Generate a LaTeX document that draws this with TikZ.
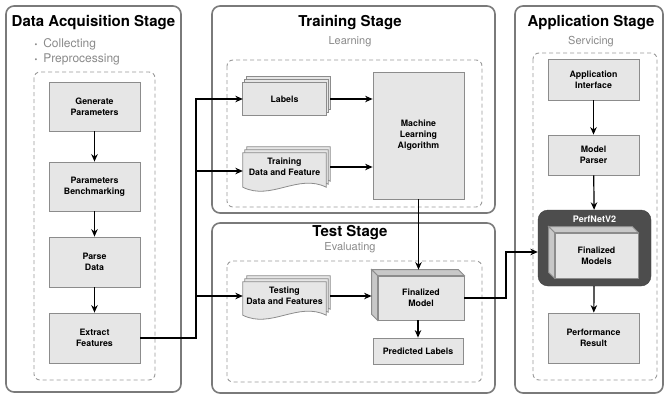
\documentclass[tikz,border=0pt]{standalone}
\usepackage{fontspec}
\setmainfont{TeX Gyre Heros}
\usepackage{tikz}
\usetikzlibrary{arrows.meta,backgrounds,calc}

\definecolor{boxfill}{HTML}{E6E6E6}
\definecolor{boxline}{HTML}{8C8C8C}
\definecolor{stageline}{HTML}{7A7A7A}
\definecolor{dashline}{HTML}{9A9A9A}
\definecolor{subgray}{HTML}{8A8A8A}
\definecolor{darkfill}{HTML}{4D4D4D}
\definecolor{sidefill}{HTML}{C8C8C8}

% stacked pages behind a document node: node, wave depth, wave amplitude
\newcommand\docstack[3]{%
  \foreach \k in {2,1,0}
    \filldraw[page] ([shift={(2*\k,-3*\k)}]#1.north west) -- ([shift={(2*\k,-3*\k)}]#1.north east)
      -- ([shift={(2*\k,-3*\k+#2)}]#1.south east)
      .. controls +(-28,-#3) and +(28,#3) .. ([shift={(2*\k,-3*\k+#2)}]#1.south west) -- cycle;
}
% depth faces of a cube node
\newcommand\cubefaces[1]{%
  \filldraw[cubeside] (#1.north west) -- ++(-6,-6) -- ([shift={(-6,-6)}]#1.north east) -- (#1.north east) -- cycle;
  \filldraw[cubeside] (#1.north west) -- ++(-6,-6) -- ([shift={(-6,-6)}]#1.south west) -- (#1.south west) -- cycle;
}

\begin{document}
\begin{tikzpicture}
  [x=1pt,y=-1pt,
   stage/.style={draw=stageline,line width=1.6pt,rounded corners=8pt},
   inner/.style={draw=dashline,line width=0.9pt,dash pattern=on 4pt off 3pt,rounded corners=6pt},
   stagetitle/.style={font=\bfseries\fontsize{15}{18}\selectfont},
   subtitle/.style={text=subgray,font=\fontsize{11}{13}\selectfont},
   bulletitem/.style={text=subgray,anchor=west,font=\fontsize{12}{14}\selectfont},
   box/.style={rectangle,draw=boxline,fill=boxfill,line width=0.8pt,minimum width=91,
     align=center,inner sep=0pt,font=\bfseries\fontsize{8.8}{11}\selectfont},
   doc/.style={rectangle,minimum width=83,align=center,inner sep=0pt,
     font=\bfseries\fontsize{8.8}{11}\selectfont},
   page/.style={draw=boxline,fill=boxfill,line width=0.8pt},
   cubeside/.style={draw=boxline,fill=sidefill,line width=0.8pt},
   darkbox/.style={rectangle,draw=darkfill!80!black,fill=darkfill,rounded corners=10pt,
     minimum width=113,minimum height=76},
   arr/.style={-{Stealth[length=7.5pt,width=6.5pt]},line width=1.2pt},
   wire/.style={line width=1.2pt}]

  \useasboundingbox (0,0) rectangle (668,396);
  \begin{scope}[on background layer]
    \fill[white] (0,0) rectangle (668,396);
  \end{scope}

  % stages
  \draw[stage] (6,6) rectangle (181,392);
  \draw[stage] (212,6) rectangle (495,213);
  \draw[stage] (212,223) rectangle (495,393);
  \draw[stage] (515,6) rectangle (663,393);
  \draw[inner] (34,72) rectangle (155,380);
  \draw[inner] (227,60) rectangle (482,207);
  \draw[inner] (227,261) rectangle (482,382);
  \draw[inner] (533,53) rectangle (657,380);

  \node[stagetitle] (acqtitle) at (93.5,23) {Data Acquisition Stage};
  \node[bulletitem] (collect) at (31,44)
    {{\fontsize{8}{8}\selectfont\textbullet}\hspace{6pt}Collecting};
  \node[bulletitem] (preproc) at (31,59)
    {{\fontsize{8}{8}\selectfont\textbullet}\hspace{6pt}Preprocessing};
  \node[stagetitle] (traintitle) at (350,23) {Training Stage};
  \node[subtitle] (learning) at (350,42) {Learning};
  \node[stagetitle] (testtitle) at (350,233) {Test Stage};
  \node[subtitle] (evaluating) at (350,248) {Evaluating};
  \node[stagetitle] (apptitle) at (591,23) {Application Stage};
  \node[subtitle] (servicing) at (591,42) {Servicing};

  % data acquisition
  \node[box,minimum height=49] (gen) at (94.5,106.5) {Generate\\Parameters};
  \node[box,minimum height=49] (bench) at (94.5,186.5) {Parameters\\Benchmarking};
  \node[box,minimum height=50] (parse) at (94.5,262) {Parse\\Data};
  \node[box,minimum height=50] (extract) at (94.5,338) {Extract\\Features};

  % training
  \node[doc,minimum height=32] (labels) at (284.5,99) {Labels};
  \node[doc,minimum height=28] (train) at (284.5,167) {Training\\Data and Feature};
  \node[box,minimum height=127] (ml) at (418.5,135.5) {Machine\\Learning\\Algorithm};

  % test
  \node[doc,minimum height=28] (testd) at (284.5,296) {Testing\\Data and Features};
  \node[box,minimum width=86,minimum height=44] (fm) at (421,298) {Finalized\\Model};
  \node[box,minimum width=90,minimum height=26] (pred) at (418,351) {Predicted Labels};
  \cubefaces{fm}

  % application
  \node[box,minimum height=41] (appint) at (593.5,79.5) {Application\\Interface};
  \node[box,minimum height=40] (parser) at (593.5,155) {Model\\Parser};
  \node[darkbox,label={[anchor=north,yshift=-3pt,text=white,
    font=\bfseries\fontsize{9}{11}\selectfont]north:PerfNetV2}] (pnet) at (594.5,248) {};
  \node[box,minimum width=83,minimum height=45] (fms) at (596.5,255.5) {Finalized\\Models};
  \cubefaces{fms}
  \node[box,minimum height=50] (perf) at (593.5,338) {Performance\\Result};

  \begin{scope}[on background layer]
    \docstack{labels}{0}{0}
    \docstack{train}{6}{14}
    \docstack{testd}{5}{14}
  \end{scope}

  \coordinate (bus) at (196,338);
  \coordinate (elbow) at (506,298);

  \draw[arr] (gen) -- (bench);
  \draw[arr] (bench) -- (parse);
  \draw[arr] (parse) -- (extract);
  \draw[arr] (extract.east) -- (bus) |- (labels.west);
  \draw[arr] (bus) |- ([yshift=-4pt]train.west);
  \draw[arr] (bus) |- (testd.west);
  \draw[arr] ([xshift=4pt]labels.east) -- (labels.east -| ml.west);
  \draw[arr] ([xshift=4pt]train.east) -- (train.east -| ml.west);
  \draw[arr] (ml.south) -- ([yshift=6pt]ml.south |- fm.north);
  \draw[arr] ([xshift=4pt]testd.east) -- ([xshift=-6pt]testd.east -| fm.west);
  \draw[arr] (fm.south -| pred.north) -- (pred.north);
  \draw[arr] (fm.east) -- (elbow) |- ([yshift=-4pt]pnet.west);
  \draw[arr] (appint) -- (parser);
  \draw[arr] (parser) -- (pnet);
  \draw[arr] (pnet) -- (perf);
\end{tikzpicture}
\end{document}
